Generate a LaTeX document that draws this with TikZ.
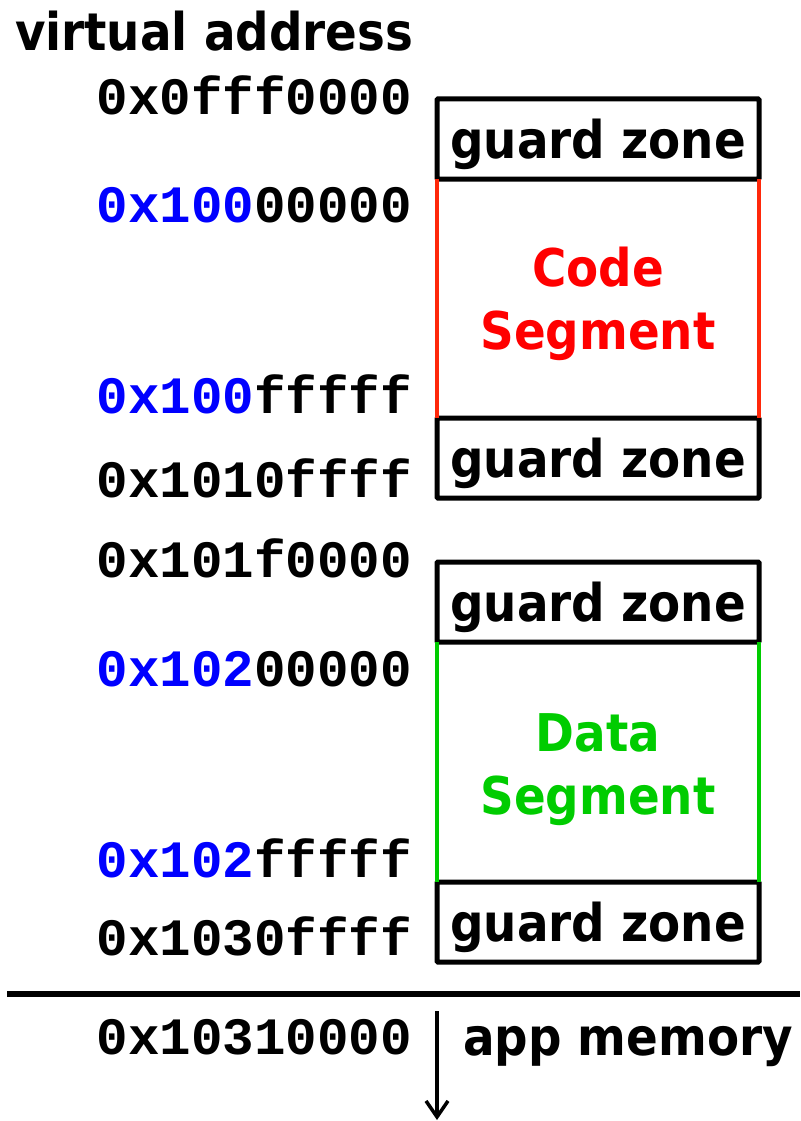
\documentclass[tikz,border=0pt]{standalone}
\usepackage{fontspec}
\newfontfamily\labelfont{DejaVu Sans Condensed}
\newfontfamily\addrfont{Liberation Mono}
\usetikzlibrary{positioning,arrows.meta}
\definecolor{addrblue}{RGB}{0,0,255}
\definecolor{codered}{RGB}{255,0,0}
\definecolor{codeline}{RGB}{255,40,10}
\definecolor{datagreen}{RGB}{0,204,0}

\begin{document}
\begin{tikzpicture}[
    x=1pt, y=-1pt,
    nosep/.style={inner sep=0, outer sep=0},
    guard/.style={draw, line width=5pt, rounded corners=1pt, nosep,
        minimum width=322pt, minimum height=80pt, text depth=0pt,
        font=\labelfont\bfseries\fontsize{52}{56}\selectfont},
    seg/.style={align=center, nosep, font=\labelfont\bfseries\fontsize{52}{63}\selectfont},
    segline/.style={draw, line width=4pt},
    addr/.style={anchor=base east, nosep, font=\addrfont\bfseries\fontsize{52.5}{56}\selectfont},
    big/.style={anchor=base west, nosep, font=\labelfont\bfseries\fontsize{52}{56}\selectfont}]
\useasboundingbox (0,0) rectangle (800,1121);

\node (title) [big] at (15,51) {virtual address};

\node (gz1) [guard] at (598,139) {guard zone};
\node (code) [seg, text=codered] at (598,304) {Code\\Segment};
\node (gz2) [guard] at (598,458) {guard zone};
\node (gz3) [guard] at (598,602) {guard zone};
\node (data) [seg, text=datagreen] at (598,770) {Data\\Segment};
\node (gz4) [guard] at (598,922) {guard zone};

\path[segline, codeline] (gz1.south west) -- (gz2.north west);
\path[segline, codeline] (gz1.south east) -- (gz2.north east);
\path[segline, datagreen] (gz3.south west) -- (gz4.north west);
\path[segline, datagreen] (gz3.south east) -- (gz4.north east);

\node (a0) [addr] at (412,114) {0x0fff0000};
\node (a1) [addr] at (412,222) {\textcolor{addrblue}{0x100}00000};
\node (a2) [addr] at (412,413) {\textcolor{addrblue}{0x100}fffff};
\node (a3) [addr] at (412,497) {0x1010ffff};
\node (a4) [addr] at (412,577) {0x101f0000};
\node (a5) [addr] at (412,686) {\textcolor{addrblue}{0x102}00000};
\node (a6) [addr] at (412,877) {\textcolor{addrblue}{0x102}fffff};
\node (a7) [addr] at (412,955) {0x1030ffff};
\node (a8) [addr] at (412,1054) {0x10310000};

\coordinate (ruleL) at (7,994);
\coordinate (ruleR) at (800,994);
\path[draw, line width=6pt] (ruleL) -- (ruleR);

\node (app) [big] at (463,1055) {app memory};

\coordinate (heapTop) at (437,1011);
\coordinate (heapBot) at (437,1120);
\path[draw, line width=3.5pt, -{Straight Barb[length=16pt, width=22pt, line width=3.5pt]}] (heapTop) -- (heapBot);

\end{tikzpicture}
\end{document}
